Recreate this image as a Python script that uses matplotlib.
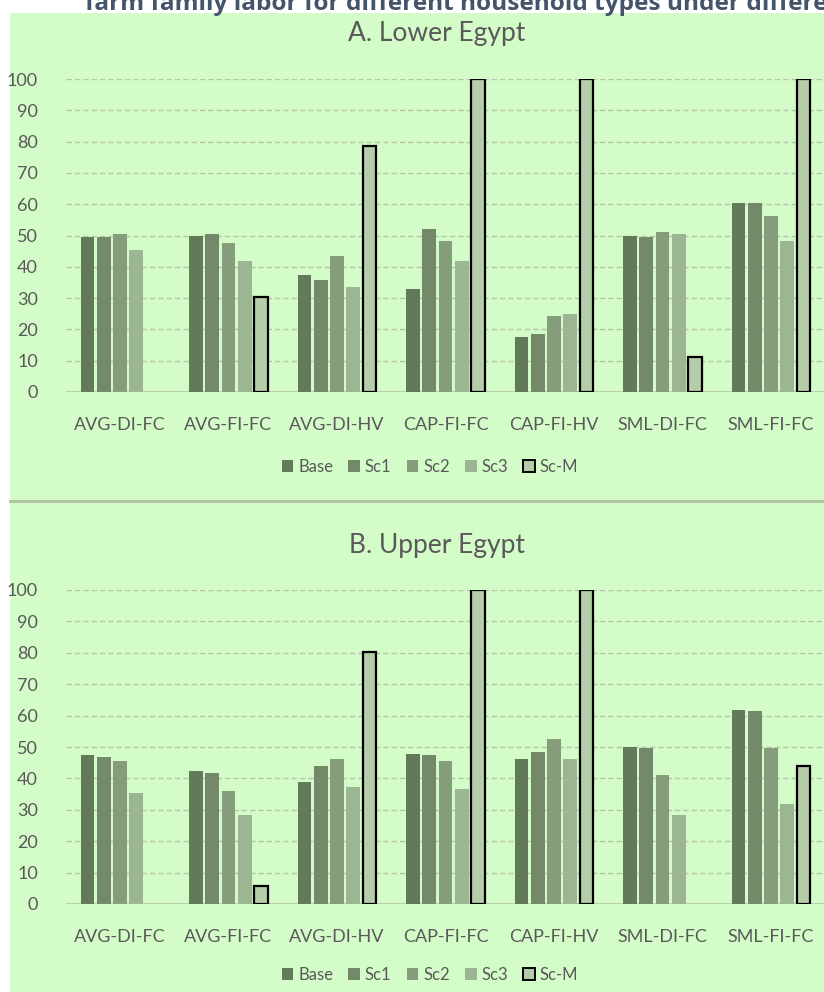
import matplotlib
matplotlib.use("Agg")
import matplotlib.pyplot as plt
import numpy as np
from matplotlib.patches import Rectangle, Patch
from matplotlib.lines import Line2D

categories = ["AVG-DI-FC", "AVG-FI-FC", "AVG-DI-HV", "CAP-FI-FC", "CAP-FI-HV", "SML-DI-FC", "SML-FI-FC"]
series = ["Base", "Sc1", "Sc2", "Sc3", "Sc-M"]

lower_base = [49.4, 49.9, 37.3, 32.9, 17.6, 49.9, 60.5]
lower_sc1 = [49.4, 50.4, 35.7, 52.0, 18.6, 49.4, 60.5]
lower_sc2 = [50.4, 47.7, 43.6, 48.1, 24.4, 51.0, 56.1]
lower_sc3 = [45.3, 41.9, 33.4, 41.9, 24.9, 50.4, 48.1]
lower_scm = [0.0, 30.3, 78.6, 100.0, 100.0, 11.2, 100.0]

upper_base = [47.3, 42.2, 38.9, 47.9, 46.2, 50.1, 61.9]
upper_sc1 = [46.7, 41.6, 43.9, 47.3, 48.5, 49.6, 61.4]
upper_sc2 = [45.7, 36.0, 46.2, 45.7, 52.4, 41.1, 49.7]
upper_sc3 = [35.4, 28.2, 37.2, 36.6, 46.2, 28.2, 32.0]
upper_scm = [0.0, 5.6, 80.3, 100.0, 100.0, 0.0, 43.8]

y_ticks = [0, 10, 20, 30, 40, 50, 60, 70, 80, 90, 100]

colors = ["#637a5a", "#73896a", "#869d7b", "#9cb592", "#b5cda9"]
panel_bg = "#d4fcc8"
text_grey = "#595959"
grid_col = "#b3c7a8"
font = ["Lato", "DejaVu Sans"]

W, H = 824, 992
fig = plt.figure(figsize=(W / 100, H / 100), dpi=100, facecolor="white")

# panel backgrounds and divider
fig.patches.append(Rectangle((10 / W, 0), 1 - 10 / W, 1 - 13 / H, transform=fig.transFigure,
                             facecolor=panel_bg, edgecolor="none", zorder=-10))
fig.add_artist(Line2D([10 / W, 1], [1 - 501.5 / H] * 2, transform=fig.transFigure,
                      color="#b0c6a5", lw=2.2, zorder=-5))

# heading text running off the top edge
fig.text(85 / W, 1 - 10 / H, "farm family labor for different household types under different scenarios",
         ha="left", va="baseline", fontsize=17.6, fontweight="bold", color="#44546a",
         family=["Open Sans", "DejaVu Sans"])

ax_left = 65.75 / W
ax_width = (7 * 108.5) / W


def draw_panel(bottom_px, top_px, title, title_y, legend_y, data):
    ax = fig.add_axes([ax_left, 1 - bottom_px / H, ax_width, (bottom_px - top_px) / H])
    ax.set_facecolor("none")
    x = np.arange(len(categories))
    slot = 0.15
    width = 0.125
    for i, (name, vals) in enumerate(zip(series, data)):
        offs = (i - 2) * slot
        if name == "Sc-M":
            lws = [1.6 if v > 0 else 0.0 for v in vals]
            ax.bar(x + offs, vals, width, color=colors[i], edgecolor="black", linewidth=lws,
                   zorder=3)
        else:
            ax.bar(x + offs, vals, width, color=colors[i], edgecolor="none", zorder=3)
    ax.set_xlim(-0.5, len(categories) - 0.5)
    ax.set_ylim(0, 100)
    ax.set_yticks(y_ticks)
    ax.set_xticks(x)
    ax.set_xticklabels(categories)
    for s in ax.spines.values():
        s.set_visible(False)
    ax.yaxis.grid(True, color=grid_col, linestyle=(0, (4, 2)), linewidth=1.0, zorder=0)
    ax.set_axisbelow(True)
    ax.axhline(0, color="#b8c9ae", lw=1.2, zorder=1)
    ax.tick_params(axis="both", length=0, labelsize=13, labelcolor=text_grey)
    ax.tick_params(axis="y", pad=20)
    ax.tick_params(axis="x", pad=18)
    for lab in ax.get_xticklabels() + ax.get_yticklabels():
        lab.set_family(font)
    fig.text(437 / W, 1 - title_y / H, title, ha="center", va="center", fontsize=19,
             color=text_grey, family=font)
    handles = [Patch(facecolor=colors[i], edgecolor="none") for i in range(4)]
    handles.append(Patch(facecolor=colors[4], edgecolor="black", linewidth=1.4))
    leg = fig.legend(handles, series, loc="center", bbox_to_anchor=(430 / W, 1 - legend_y / H),
                     ncol=5, frameon=False, handlelength=0.7, handleheight=0.7,
                     handletextpad=0.3, columnspacing=0.9,
                     prop={"family": font, "size": 12})
    for t in leg.get_texts():
        t.set_color(text_grey)
    return ax


draw_panel(392, 79, "A. Lower Egypt", 33, 467,
           [lower_base, lower_sc1, lower_sc2, lower_sc3, lower_scm])
draw_panel(904, 590, "B. Upper Egypt", 545, 975,
           [upper_base, upper_sc1, upper_sc2, upper_sc3, upper_scm])

fig.savefig("out.png", dpi=100, facecolor="white")
